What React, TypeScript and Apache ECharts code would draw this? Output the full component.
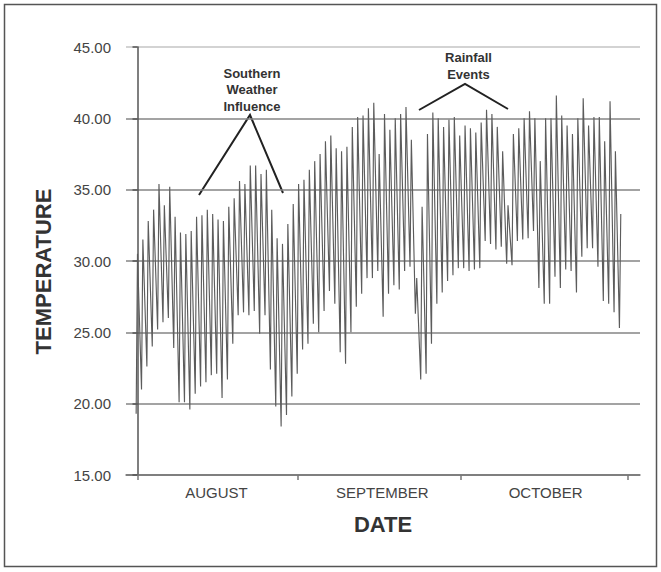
import React, { useEffect, useRef } from "react";
import * as echarts from "echarts";

// Daily maximum and minimum temperatures
const augMax = [30.5, 31.5, 32.8, 33.6, 35.4, 33.9, 35.2, 33.1, 32.0, 31.9, 32.1, 33.1, 33.2, 33.6, 33.3, 32.9, 32.8, 33.8, 34.4, 35.6, 35.4, 36.7, 36.7, 36.1, 36.4, 33.6, 31.6, 31.2, 32.6, 34.0];
const augMin = [19.3, 21.0, 22.6, 24.0, 25.2, 25.7, 26.0, 23.9, 20.1, 20.1, 19.6, 20.7, 21.2, 21.5, 22.0, 22.1, 20.4, 21.7, 24.2, 26.2, 26.4, 26.2, 26.5, 24.9, 26.2, 22.4, 19.8, 18.4, 19.2, 20.5];
const sepMax = [35.4, 35.7, 36.4, 37.0, 37.5, 38.4, 38.8, 37.9, 37.7, 38.0, 39.4, 40.1, 40.2, 40.7, 41.1, 37.5, 40.3, 39.2, 40.0, 40.3, 40.8, 38.5, 28.8, 33.8, 38.9, 40.4, 40.0, 39.4, 39.9, 40.1];
const sepMin = [22.1, 23.8, 24.2, 25.6, 25.0, 26.5, 27.9, 27.0, 23.6, 22.8, 25.0, 26.8, 27.7, 28.8, 28.8, 29.3, 26.1, 27.7, 28.3, 28.0, 29.3, 29.6, 26.3, 21.7, 22.1, 24.2, 27.0, 27.8, 28.6, 29.0];
const octMax = [38.8, 39.5, 39.3, 39.0, 39.7, 40.6, 40.3, 39.4, 37.7, 33.9, 38.9, 39.3, 40.0, 40.5, 40.0, 37.0, 40.0, 40.0, 41.6, 40.2, 39.5, 38.9, 40.0, 41.4, 39.5, 40.1, 40.1, 38.4, 41.2, 37.7, 33.3];
const octMin = [29.5, 29.5, 29.3, 29.4, 29.5, 31.4, 31.2, 30.8, 31.0, 29.8, 29.7, 31.4, 31.5, 31.6, 32.1, 28.1, 27.0, 27.0, 28.9, 28.1, 29.4, 29.3, 27.8, 30.3, 30.9, 30.9, 29.6, 27.2, 27.0, 26.4, 25.3];

const monthLabels = ["AUGUST", "SEPTEMBER", "OCTOBER"];
const monthTickDays = [0.1, 29.8, 60.2, 91.3];
const monthLabelDays = [14.7, 45.6, 76.0];
const yTicks = [15, 20, 25, 30, 35, 40, 45];

const FONT = "'Liberation Sans', Arial, Helvetica, sans-serif";

export default function App() {
  const ref = useRef<HTMLDivElement>(null);

  useEffect(() => {
    if (!ref.current) return;
    const chart = echarts.init(ref.current, undefined, { renderer: "svg" });

    const dailyMax = [...augMax, ...sepMax, ...octMax];
    const dailyMin = [...augMin, ...sepMin, ...octMin];
    const RISE = 0.25; // minimum occurs shortly before the daily peak
    const points: [number, number][] = [];
    dailyMax.forEach((mx, d) => {
      points.push([d - RISE, dailyMin[d]]);
      points.push([d, mx]);
    });

    const gridColors = ["#777", "#858585", "#858585", "#858585", "#858585", "#858585", "#c4c4c4"];

    chart.setOption({
      animation: false,
      backgroundColor: "#fff",
      grid: {
        left: 126,
        right: 21,
        top: 47,
        bottom: 97,
        containLabel: false,
        outerBoundsMode: "none",
      },
      xAxis: {
        type: "value",
        min: -2.14,
        max: 93.58,
        axisLine: { show: true, lineStyle: { color: "#777", width: 1.5 } },
        axisTick: {
          show: true,
          customValues: monthTickDays,
          length: 5,
          lineStyle: { color: "#777", width: 1.5 },
        },
        axisLabel: {
          customValues: monthLabelDays,
          formatter: (v: number) => {
            const i = monthLabelDays.findIndex((x) => Math.abs(x - v) < 1e-6);
            return i >= 0 ? monthLabels[i] : "";
          },
          color: "#444",
          fontSize: 15,
          fontFamily: FONT,
          margin: 10,
        },
        splitLine: { show: false },
        name: "DATE",
        nameLocation: "middle",
        nameGap: 38,
        nameTextStyle: { fontSize: 22, fontWeight: "bold", color: "#333", fontFamily: FONT },
      },
      yAxis: {
        type: "value",
        min: yTicks[0],
        max: yTicks[yTicks.length - 1],
        interval: 5,
        axisLine: { show: true, lineStyle: { color: "#555", width: 1.5 } },
        axisTick: { show: true, length: 5, lineStyle: { color: "#555", width: 1.5 } },
        axisLabel: {
          formatter: (v: number) => v.toFixed(2),
          color: "#444",
          fontSize: 15,
          fontFamily: FONT,
          margin: 15,
        },
        splitLine: { show: true, lineStyle: { color: gridColors, width: 1.5 } },
      },
      series: [
        {
          type: "line",
          data: points,
          showSymbol: false,
          symbol: "none",
          silent: true,
          lineStyle: { color: "#5c5c5c", width: 1.15 },
        },
      ],
      graphic: [
        {
          type: "rect",
          shape: { x: 4.5, y: 4.5, width: 652, height: 562 },
          style: { fill: "none", stroke: "#555", lineWidth: 1.5 },
          silent: true,
        },
        {
          type: "text",
          x: 43.5,
          y: 271.5,
          rotation: Math.PI / 2,
          style: {
            text: "TEMPERATURE",
            align: "center",
            verticalAlign: "middle",
            font: `bold 22px ${FONT}`,
            fill: "#333",
          },
        },
        {
          type: "text",
          x: 252,
          y: 89.5,
          style: {
            text: "Southern\nWeather\nInfluence",
            align: "center",
            verticalAlign: "middle",
            font: `bold 13px ${FONT}`,
            lineHeight: 16.5,
            fill: "#333",
          },
        },
        {
          type: "polyline",
          shape: { points: [[199, 195], [250, 115], [283, 193]] },
          style: { stroke: "#222", lineWidth: 2, fill: "none" },
        },
        {
          type: "text",
          x: 468.5,
          y: 66,
          style: {
            text: "Rainfall\nEvents",
            align: "center",
            verticalAlign: "middle",
            font: `bold 13px ${FONT}`,
            lineHeight: 16.5,
            fill: "#333",
          },
        },
        {
          type: "polyline",
          shape: { points: [[419, 110], [465, 84], [508, 109]] },
          style: { stroke: "#222", lineWidth: 2, fill: "none" },
        },
      ],
    });

    return () => chart.dispose();
  }, []);

  return (
    <div
      ref={ref}
      style={{ position: "fixed", left: 0, top: 0, width: 661, height: 572, background: "#fff" }}
    />
  );
}
